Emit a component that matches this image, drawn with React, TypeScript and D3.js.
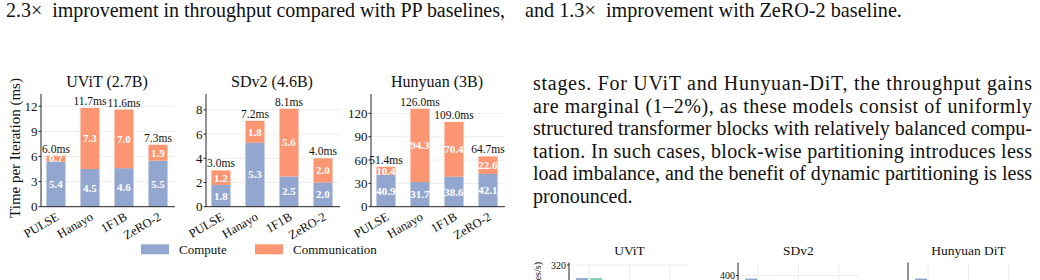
import React from 'react';
import * as d3 from 'd3';

// methods compared in every panel
const methods = ['PULSE', 'Hanayo', '1F1B', 'ZeRO-2'];
const models = ['UViT (2.7B)', 'SDv2 (4.6B)', 'Hunyuan (3B)'];

const uvitCompute = [5.4, 4.5, 4.6, 5.5];
const uvitComm = [0.7, 7.3, 7.0, 1.9];
const uvitTotal = [6.0, 11.7, 11.6, 7.3];
const uvitTicks = [0, 3, 6, 9, 12];

const sdCompute = [1.8, 5.3, 2.5, 2.0];
const sdComm = [1.2, 1.8, 5.6, 2.0];
const sdTotal = [3.0, 7.2, 8.1, 4.0];
const sdTicks = [0, 2, 4, 6, 8];

const hyCompute = [40.9, 31.7, 38.6, 42.1];
const hyComm = [10.4, 94.3, 70.4, 22.6];
const hyTotal = [51.4, 126.0, 109.0, 64.7];
const hyTicks = [0, 30, 60, 90, 120];

// the next figure, only its top shows at the bottom edge
const thruTitles = ['UViT', 'SDv2', 'Hunyuan DiT'];
const thruTicks = [320, 400, 40];
const thruMax = [328, 430, 46];
const thruBlue = [278, 393, 41.3];
const thruGreen = [278, 0, 0];

const topLeft = '2.3\u00d7\u2002improvement in throughput compared with PP baselines,';
const topRight = 'and 1.3\u00d7\u2002improvement with ZeRO-2 baseline.';
const paragraph = [
  'stages. For UViT and Hunyuan-DiT, the throughput gains',
  'are marginal (1\u20132%), as these models consist of uniformly',
  'structured transformer blocks with relatively balanced compu-',
  'tation. In such cases, block-wise partitioning introduces less',
  'load imbalance, and the benefit of dynamic partitioning is less',
  'pronounced.',
];

const serif = '"Liberation Serif", "Times New Roman", serif';
const computeColor = '#93a6cf';
const commColor = '#fc9571';
const greenColor = '#7fcdb2';
const axisColor = '#222';
const gridColor = '#ededed';

const panels = [
  { title: models[0], compute: uvitCompute, comm: uvitComm, total: uvitTotal, ticks: uvitTicks },
  { title: models[1], compute: sdCompute, comm: sdComm, total: sdTotal, ticks: sdTicks },
  { title: models[2], compute: hyCompute, comm: hyComm, total: hyTotal, ticks: hyTicks },
];

function Panel({ idx, p }) {
  const left = 41 + idx * 165;
  const bottom = 206.7;
  const x = d3.scaleLinear().domain([-0.44, 3.5]).range([left, left + 134]);
  const y = d3
    .scaleLinear()
    .domain([0, (d3.max(p.total) as number) * 1.15])
    .range([bottom, 94]);
  const bw = x(0.56) - x(0);
  const fmt = d3.format('.1f');

  return (
    <g>
      <text x={left + 66} y={86.5} textAnchor="middle" fontSize={16}>
        {p.title}
      </text>
      {p.ticks.map((t) => (
        <g key={t}>
          {t > 0 && (
            <line x1={left} x2={left + 134} y1={y(t)} y2={y(t)} stroke={gridColor} />
          )}
          <line x1={left - 2.5} x2={left} y1={y(t)} y2={y(t)} stroke={axisColor} />
          <text x={left - 3.5} y={y(t)} dy="0.35em" textAnchor="end" fontSize={13}>
            {t}
          </text>
        </g>
      ))}
      {methods.map((m, i) => {
        const c = p.compute[i];
        const k = p.comm[i];
        const cx = x(i);
        return (
          <g key={m}>
            <rect x={cx - bw / 2} width={bw} y={y(c)} height={y(0) - y(c)} fill={computeColor} />
            <rect x={cx - bw / 2} width={bw} y={y(c + k)} height={y(c) - y(c + k)} fill={commColor} />
            <text x={cx} y={y(c / 2)} dy="0.35em" textAnchor="middle" fill="#fff" fontWeight="bold" fontSize={11}>
              {fmt(c)}
            </text>
            <text x={cx} y={y(c + k / 2)} dy="0.35em" textAnchor="middle" fill="#fff" fontWeight="bold" fontSize={11}>
              {fmt(k)}
            </text>
            <text x={cx} y={y(c + k) - 3} textAnchor="middle" fontSize={11.5}>
              {fmt(p.total[i]) + 'ms'}
            </text>
            <text
              transform={`translate(${cx + 4},${bottom + 12.5}) rotate(-30)`}
              textAnchor="end"
              fontSize={12.5}
            >
              {m}
            </text>
          </g>
        );
      })}
      <line x1={left} x2={left} y1={94} y2={bottom} stroke={axisColor} />
      <line x1={left} x2={left + 134} y1={bottom} y2={bottom} stroke={axisColor} />
    </g>
  );
}

function MiniChart({ idx }) {
  const lefts = [569, 738, 908];
  const left = lefts[idx];
  const top = 262.5;
  const tickY = [265, 275.5, 283];
  // put the tick where it sits in the picture and derive the zero line from it
  const k = (tickY[idx] - top) / (thruMax[idx] - thruTicks[idx]);
  const y = d3.scaleLinear().domain([0, thruMax[idx]]).range([top + thruMax[idx] * k, top]);
  const x = d3.scaleBand().domain(['a', 'b', 'c']).range([left, left + 121]).padding(0);
  const groups = ['a', 'b', 'c'];
  const bw = 12;
  return (
    <g>
      <text x={left + 60.5} y={255} textAnchor="middle" fontSize={13.5}>
        {thruTitles[idx]}
      </text>
      <line x1={left} x2={left + 121} y1={y(thruTicks[idx])} y2={y(thruTicks[idx])} stroke={gridColor} />
      {groups.map((g) => (
        <line
          key={g}
          x1={(x(g) as number) + x.bandwidth() / 2}
          x2={(x(g) as number) + x.bandwidth() / 2}
          y1={top}
          y2={280}
          stroke={gridColor}
        />
      ))}
      <rect
        x={(x('a') as number) + x.bandwidth() / 2 - bw - 1}
        width={bw}
        y={y(thruBlue[idx])}
        height={Math.max(0, y(0) - y(thruBlue[idx]))}
        fill={computeColor}
      />
      <rect
        x={(x('a') as number) + x.bandwidth() / 2 + 1}
        width={bw}
        y={y(thruGreen[idx])}
        height={Math.max(0, y(0) - y(thruGreen[idx]))}
        fill={greenColor}
      />
      <line x1={left - 2} x2={left} y1={y(thruTicks[idx])} y2={y(thruTicks[idx])} stroke={axisColor} />
      <text x={left - 3} y={y(thruTicks[idx])} dy="0.35em" textAnchor="end" fontSize={10}>
        {thruTicks[idx]}
      </text>
      <line x1={left} x2={left} y1={top} y2={290} stroke={axisColor} />
    </g>
  );
}

export default function App() {
  return (
    <svg
      width={1040}
      height={280}
      style={{ position: 'absolute', left: 0, top: 0, background: '#fff' }}
      fontFamily={serif}
      fill="#111"
    >
      <text x={6} y={16.7} fontSize={20} textLength={499} lengthAdjust="spacing">
        {topLeft}
      </text>
      <text x={525} y={16.7} fontSize={20.2}>
        {topRight}
      </text>

      {paragraph.map((line, i) => (
        <text
          key={i}
          x={533}
          y={90 + i * 22.5}
          fontSize={20}
          textLength={i < paragraph.length - 1 ? 499 : undefined}
          lengthAdjust="spacing"
        >
          {line}
        </text>
      ))}

      <text transform="translate(15,148) rotate(-90)" textAnchor="middle" dy="0.35em" fontSize={15}>
        Time per Iteration (ms)
      </text>
      {panels.map((p, i) => (
        <Panel key={p.title} idx={i} p={p} />
      ))}

      <rect x={141} y={244.3} width={28} height={10} fill={computeColor} />
      <text x={179} y={253.5} fontSize={13}>
        Compute
      </text>
      <rect x={255} y={244.3} width={28} height={10} fill={commColor} />
      <text x={293} y={253.5} fontSize={13}>
        Communication
      </text>

      <text transform="translate(537,262) rotate(-90)" textAnchor="end" dy="0.35em" fontSize={10}>
        Throughput (samples/s)
      </text>
      {thruTitles.map((t, i) => (
        <MiniChart key={t} idx={i} />
      ))}
    </svg>
  );
}
